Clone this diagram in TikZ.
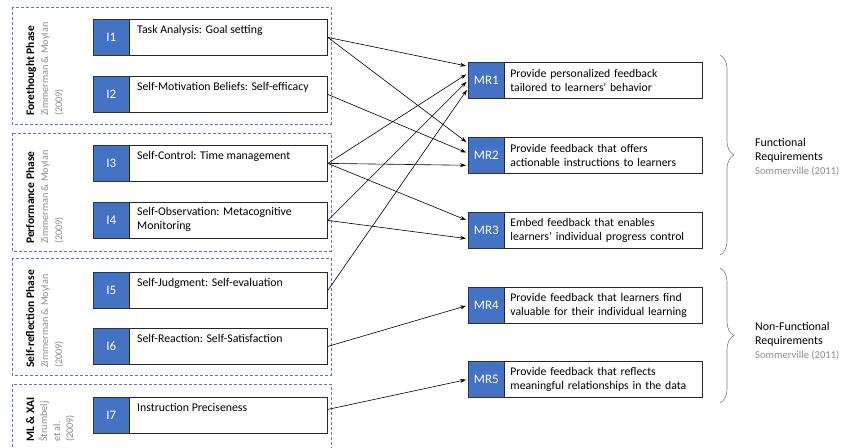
\documentclass[tikz,border=0pt]{standalone}
\usepackage{fontspec}
\setmainfont{Carlito}
\usetikzlibrary{arrows.meta,decorations.pathreplacing,calc}
\definecolor{xblue}{HTML}{4472C4}
\definecolor{dashblue}{HTML}{5A78BE}
\definecolor{refgray}{HTML}{8C8C8C}
\begin{document}
\begin{tikzpicture}[x=1pt,y=-1pt,
 lab/.style={draw=black!80, fill=xblue, text=white, minimum width=36pt, minimum height=36pt, inner sep=0pt, anchor=north west, font=\fontsize{13}{15}\selectfont, line width=0.6pt},
 ibox/.style={draw=black!85, fill=white, minimum width=198pt, minimum height=36pt, inner sep=0pt, anchor=north west, line width=0.8pt},
 itext/.style={anchor=north west, align=left, font=\fontsize{11.8}{14}\selectfont, inner sep=0pt},
 mrbox/.style={draw=black!85, fill=white, text width=186pt, minimum height=36pt, inner xsep=6pt, inner ysep=0pt, align=left, anchor=north west, font=\fontsize{11.7}{14}\selectfont, line width=0.8pt},
 phase/.style={draw=dashblue, dash pattern=on 3pt off 2pt, line width=0.8pt},
 ptitle/.style={rotate=90, anchor=base west, inner sep=0pt, font=\bfseries\fontsize{11.5}{13}\selectfont},
 pref/.style={rotate=90, anchor=base west, inner sep=0pt, text=refgray, font=\fontsize{10.2}{12}\selectfont},
 arr/.style={-{Stealth[length=6pt,width=4pt]}, line width=0.6pt, shorten >=2pt},
 bracestyle/.style={decorate, decoration={brace, amplitude=14pt}, draw=gray, line width=0.6pt},
 req/.style={anchor=west, align=left, inner sep=0pt, font=\fontsize{11.9}{14}\selectfont}
]
\useasboundingbox (0,0) rectangle (842,447);

% phase boxes
\draw[phase] (12,7) rectangle (331,124);
\draw[phase] (12,133) rectangle (331,251);
\draw[phase] (12,258) rectangle (331,375);
\draw[phase] (12,452) -- (12,384) -- (331,384) -- (331,452);

% phase titles
\node[ptitle] (P1) at (34,116) {Forethought Phase};
\node[pref] (P1a) at (48,116) {Zimmerman \& Moylan};
\node[pref] (P1b) at (62,116) {(2009)};
\node[ptitle] (P2) at (34,244) {Performance Phase};
\node[pref] (P2a) at (48,244) {Zimmerman \& Moylan};
\node[pref] (P2b) at (62,244) {(2009)};
\node[ptitle] (P3) at (34,368) {Self-reflection Phase};
\node[pref] (P3a) at (48,368) {Zimmerman \& Moylan};
\node[pref] (P3b) at (62,368) {(2009)};
\node[ptitle] (P4) at (34,442) {ML \& XAI};
\node[pref] (P4a) at (47,442) {Štrumbelj};
\node[pref] (P4b) at (60,442) {et al.};
\node[pref] (P4c) at (73,442) {(2009)};

% I boxes
\node[lab] (I1) at (93,19) {I1};
\node[ibox] (T1) at (129,19) {};
\node[itext] (X1) at (137,25) {Task Analysis: Goal setting};
\node[lab] (I2) at (93,76) {I2};
\node[ibox] (T2) at (129,76) {};
\node[itext] (X2) at (137,82) {Self-Motivation Beliefs: Self-efficacy};
\node[lab] (I3) at (93,145) {I3};
\node[ibox] (T3) at (129,145) {};
\node[itext] (X3) at (137,151) {Self-Control: Time management};
\node[lab] (I4) at (93,202) {I4};
\node[ibox] (T4) at (129,202) {};
\node[itext] (X4) at (137,207) {Self-Observation: Metacognitive\\Monitoring};
\node[lab] (I5) at (93,272) {I5};
\node[ibox] (T5) at (129,272) {};
\node[itext] (X5) at (137,278) {Self-Judgment: Self-evaluation};
\node[lab] (I6) at (93,328) {I6};
\node[ibox] (T6) at (129,328) {};
\node[itext] (X6) at (137,334) {Self-Reaction: Self-Satisfaction};
\node[lab] (I7) at (93,397) {I7};
\node[ibox] (T7) at (129,397) {};
\node[itext] (X7) at (137,403) {Instruction Preciseness};

% MR boxes
\node[lab] (M1) at (468,62) {MR1};
\node[mrbox] (R1) at (504,62) {Provide personalized feedback\\tailored to learners\textquotesingle\ behavior};
\node[lab] (M2) at (468,137) {MR2};
\node[mrbox] (R2) at (504,137) {Provide feedback that offers\\actionable instructions to learners};
\node[lab] (M3) at (468,212) {MR3};
\node[mrbox] (R3) at (504,212) {Embed feedback that enables\\learners’ individual progress control};
\node[lab] (M4) at (468,287) {MR4};
\node[mrbox] (R4) at (504,287) {Provide feedback that learners find\\valuable for their individual learning};
\node[lab] (M5) at (468,361) {MR5};
\node[mrbox] (R5) at (504,361) {Provide feedback that reflects\\meaningful relationships in the data};

% connectors
\draw[arr] (T1.east) -- ([yshift=14pt]M1.west);
\draw[arr] (T3.east) -- ([yshift=7pt]M1.west);
\draw[arr] (T4.east) -- (M1.west);
\draw[arr] (T5.east) -- ([yshift=-8pt]M1.west);
\draw[arr] (T1.east) -- ([yshift=12pt]M2.west);
\draw[arr] (T2.east) -- ([yshift=2pt]M2.west);
\draw[arr] (T3.east) -- ([yshift=-10pt]M2.west);
\draw[arr] (T3.east) -- ([yshift=9.5pt]M3.west);
\draw[arr] (T4.east) -- ([yshift=-8.5pt]M3.west);
\draw[arr] (T6.east) -- (M4.west);
\draw[arr] ([yshift=6pt]T7.east) -- (M5.west);

% braces
\draw[bracestyle] (720,55) -- (720,255);
\draw[bracestyle] (720,268) -- (720,403);
\node[req] (F) at (755,157) {Functional\\Requirements\\{\color{refgray}\fontsize{10.6}{14}\selectfont Sommerville (2011)}};
\node[req] (NF) at (755,341) {Non-Functional\\Requirements\\{\color{refgray}\fontsize{10.6}{14}\selectfont Sommerville (2011)}};
\end{tikzpicture}
\end{document}
